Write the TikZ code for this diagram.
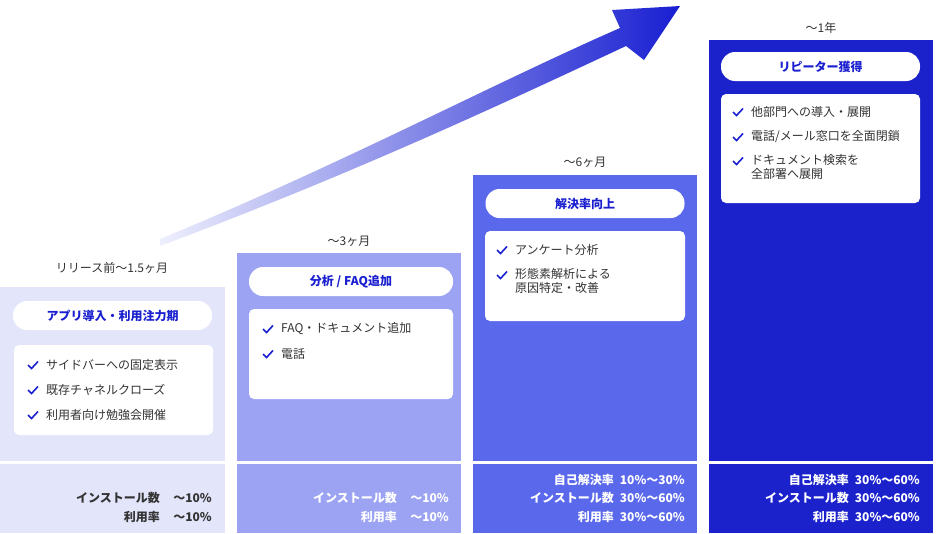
\documentclass[tikz,border=0pt]{standalone}
\usepackage{fontspec}
\setmainfont{Noto Sans CJK JP}
\usetikzlibrary{positioning}
\definecolor{stageA}{HTML}{E3E5FB}
\definecolor{stageB}{HTML}{9BA3F2}
\definecolor{stageC}{HTML}{5A68EC}
\definecolor{stageD}{HTML}{1B22CC}
\definecolor{accent}{HTML}{1A1FD0}
\definecolor{ink}{HTML}{333333}
\tikzset{
    stage/.style={draw=none, anchor=north west, inner sep=0pt},
    pill/.style={fill=white, rounded corners=14pt, inner sep=0pt,
        font=\fontsize{12}{14}\selectfont\bfseries, text=accent},
    card/.style={fill=white, rounded corners=5pt},
    item/.style={anchor=west, inner sep=0pt, text=ink,
        font=\fontsize{12}{14}\selectfont},
    period/.style={inner sep=0pt, text=ink, font=\fontsize{12}{14}\selectfont},
    stat/.style={inner sep=0pt, font=\fontsize{12}{14}\selectfont\bfseries},
    tick/.pic={\draw[accent, line width=1.6pt] (-5,0) -- (-1.5,3.5) -- (5,-3.5);}
}
\begin{document}
\begin{tikzpicture}[x=1pt, y=-1pt]
    \useasboundingbox (0,0) rectangle (936,533);

    % growth arrow
    \shade[left color=stageA!60, right color=stageD!90!blue]
        (160,246) .. controls (350,175) and (500,105) .. (626,46)
        -- (644,60) -- (680,6) -- (612,10) -- (620,28)
        .. controls (490,85) and (340,165) .. (160,239) -- cycle;

    % stage columns
    \fill[stageA] (0,287) rectangle (225,533);
    \fill[stageB] (237,253) rectangle (461,533);
    \fill[stageC] (473,175) rectangle (697,533);
    \fill[stageD] (709,40) rectangle (933,533);
    \foreach \x/\w in {0/225, 237/224, 473/224, 709/224}
        \fill[white] (\x,461) rectangle ++(\w,3);

    % periods
    \node (p1) [period] at (112,268) {リリース前〜1.5ヶ月};
    \node (p2) [period] at (349,241) {〜3ヶ月};
    \node (p3) [period] at (585,162) {〜6ヶ月};
    \node (p4) [period] at (821,28) {〜1年};

    % headers
    \node (h1) [pill, minimum width=199pt, minimum height=29pt] at (112.5,315.5) {アプリ導入・利用注力期};
    \node (h2) [pill, minimum width=204pt, minimum height=29pt] at (351,281.5) {分析 / FAQ追加};
    \node (h3) [pill, minimum width=199pt, minimum height=29pt] at (585,203.5) {解決率向上};
    \node (h4) [pill, minimum width=199pt, minimum height=29pt] at (820.5,66.5) {リピーター獲得};

    % cards
    \fill[card] (14,345) rectangle (213,435);
    \fill[card] (249,309) rectangle (453,399);
    \fill[card] (485,231) rectangle (685,321);
    \fill[card] (721,94) rectangle (920,203);

    \foreach \y/\t [count=\i] in {365/サイドバーへの固定表示, 390/既存チャネルクローズ, 415/利用者向け勉強会開催} {
        \pic at (33,\y) {tick};
        \node (a\i) [item] at (46,\y) {\t};
    }
    \foreach \y/\t [count=\i] in {329/FAQ・ドキュメント追加, 354/電話/メール窓口を一部閉鎖} {
        \pic at (268,\y) {tick};
        \node (b\i) [item] at (281,\y) {\t};
    }
    \pic at (502,250) {tick};
    \node (c1) [item] at (515,250) {アンケート分析};
    \pic at (502,275) {tick};
    \node (c2) [item, align=left, anchor=north west] at (515,268) {形態素解析による\\原因特定・改善};
    \pic at (738,112) {tick};
    \node (d1) [item] at (751,112) {他部門への導入・展開};
    \pic at (738,137) {tick};
    \node (d2) [item] at (751,137) {電話/メール窓口を全面閉鎖};
    \pic at (738,161) {tick};
    \node (d3) [item, align=left, anchor=north west] at (751,154) {ドキュメント検索を\\全部署へ展開};

    % stats
    \node (s1a) [stat, text=ink, anchor=east] at (160,498) {インストール数};
    \node (v1a) [stat, text=ink, anchor=east] at (212,498) {〜10\%};
    \node (s1b) [stat, text=ink, anchor=east] at (160,517) {利用率};
    \node (v1b) [stat, text=ink, anchor=east] at (212,517) {〜10\%};

    \node (s2a) [stat, text=white, anchor=east] at (397,498) {インストール数};
    \node (v2a) [stat, text=white, anchor=east] at (449,498) {〜10\%};
    \node (s2b) [stat, text=white, anchor=east] at (397,517) {利用率};
    \node (v2b) [stat, text=white, anchor=east] at (449,517) {〜10\%};

    \foreach \y/\s/\v [count=\i] in {480/自己解決率/10\%〜30\%, 498/インストール数/30\%〜60\%, 517/利用率/30\%〜60\%} {
        \node (s3\i) [stat, text=white, anchor=east] at (614,\y) {\s};
        \node (v3\i) [stat, text=white, anchor=east] at (685,\y) {\v};
    }
    \foreach \y/\s/\v [count=\i] in {480/自己解決率/30\%〜60\%, 498/インストール数/30\%〜60\%, 517/利用率/30\%〜60\%} {
        \node (s4\i) [stat, text=white, anchor=east] at (849,\y) {\s};
        \node (v4\i) [stat, text=white, anchor=east] at (920,\y) {\v};
    }
\end{tikzpicture}
\end{document}
